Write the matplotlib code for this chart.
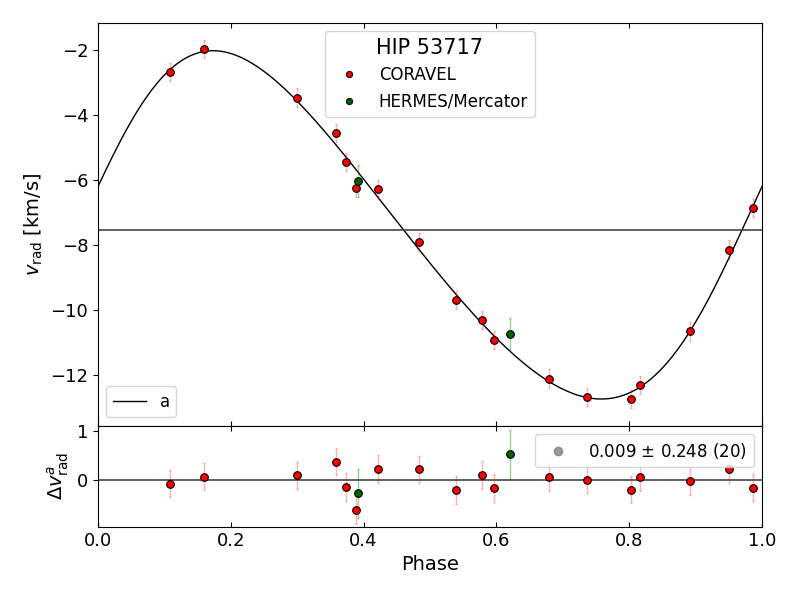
import numpy as np
import matplotlib
matplotlib.use("Agg")
import matplotlib.pyplot as plt

# CORAVEL measurements (phase, v_rad, error, O-C)
cor_phase = [0.108, 0.159, 0.300, 0.359, 0.374, 0.388, 0.422, 0.484, 0.539,
             0.579, 0.596, 0.679, 0.736, 0.802, 0.817, 0.892, 0.950, 0.987]
cor_v = [-2.67, -1.97, -3.46, -4.54, -5.45, -6.24, -6.29, -7.90, -9.68,
         -10.31, -10.92, -12.11, -12.67, -12.74, -12.30, -10.66, -8.14, -6.87]
cor_err = [0.28] * 18
cor_res = [-0.07, 0.07, 0.10, 0.38, -0.14, -0.61, 0.23, 0.22, -0.20,
           0.11, -0.16, 0.06, 0.01, -0.19, 0.06, -0.02, 0.23, -0.15]

# HERMES/Mercator measurements
her_phase = [0.392, 0.621]
her_v = [-6.03, -10.73]
her_err = [0.50, 0.50]
her_res = [-0.27, 0.53]

# orbit (phase-folded, P = 1)
gamma = -7.54
K = 5.36
ecc = 0.137
omega = np.radians(282.7)
T0 = 0.0


def vrad(phase):
    M = 2 * np.pi * (phase - T0)
    E = M.copy()
    for _ in range(50):
        E = E - (E - ecc * np.sin(E) - M) / (1 - ecc * np.cos(E))
    nu = 2 * np.arctan(np.sqrt((1 + ecc) / (1 - ecc)) * np.tan(E / 2))
    return gamma + K * (np.cos(nu + omega) + ecc * np.cos(omega))


fs = 13
fig = plt.figure(figsize=(8, 6), dpi=100)
ax = fig.add_axes([0.1225, 0.2905, 0.83, 0.6715])
axr = fig.add_axes([0.1225, 0.122, 0.83, 0.1685], sharex=ax)

ph = np.linspace(0, 1, 500)
line, = ax.plot(ph, vrad(ph), color='black', lw=1)
ax.axhline(gamma, color='#444444', lw=1.2)

ax.errorbar(cor_phase, cor_v, yerr=cor_err, fmt='none', ecolor='red',
            alpha=0.3, elinewidth=1, capsize=1)
ax.errorbar(her_phase, her_v, yerr=her_err, fmt='none', ecolor='green',
            alpha=0.4, elinewidth=1, capsize=1)
ax.plot(cor_phase, cor_v, 'o', color='red', mec='black', mew=0.8, ms=5.5,
        label='CORAVEL', zorder=5)
ax.plot(her_phase, her_v, 'o', color='darkgreen', mec='black', mew=0.8,
        ms=5.5, label='HERMES/Mercator', zorder=5)

leg1 = ax.legend(loc='upper center', title='HIP 53717', fontsize=12,
                 title_fontsize=15, markerscale=0.8)
ax.add_artist(leg1)
ax.legend([line], ['a'], loc='lower left', fontsize=12)

ax.set_xlim(0, 1)
ax.set_ylim(-13.56, -1.16)
ax.set_yticks([-12, -10, -8, -6, -4, -2])
ax.set_ylabel(r'$v_{\rm rad}$ [km/s]', fontsize=fs + 1)
ax.tick_params(axis='x', which='both', direction='in', top=True,
               bottom=True, labelbottom=False)
ax.tick_params(labelsize=fs)

axr.axhline(0, color='#444444', lw=1.2)
axr.errorbar(cor_phase, cor_res, yerr=cor_err, fmt='none', ecolor='red',
             alpha=0.3, elinewidth=1, capsize=1)
axr.errorbar(her_phase, her_res, yerr=her_err, fmt='none', ecolor='green',
             alpha=0.4, elinewidth=1, capsize=1)
axr.plot(cor_phase, cor_res, 'o', color='red', mec='black', mew=0.8, ms=5.5,
         zorder=5)
axr.plot(her_phase, her_res, 'o', color='darkgreen', mec='black', mew=0.8,
         ms=5.5, zorder=5)
axr.plot([], [], 'o', color='grey', alpha=0.8, ms=6,
         label=r'0.009 $\pm$ 0.248 (20)')
axr.legend(loc='upper right', fontsize=12)

axr.set_ylim(-0.95, 1.11)
axr.set_yticks([0, 1])
axr.set_xticks([0, 0.2, 0.4, 0.6, 0.8, 1.0])
axr.set_ylabel(r'$\Delta v^{a}_{\rm rad}$', fontsize=fs + 1)
axr.set_xlabel('Phase', fontsize=fs + 1)
axr.tick_params(axis='x', which='both', direction='in', top=True,
                bottom=True)
axr.tick_params(labelsize=fs)

fig.savefig('out.png', dpi=100)
